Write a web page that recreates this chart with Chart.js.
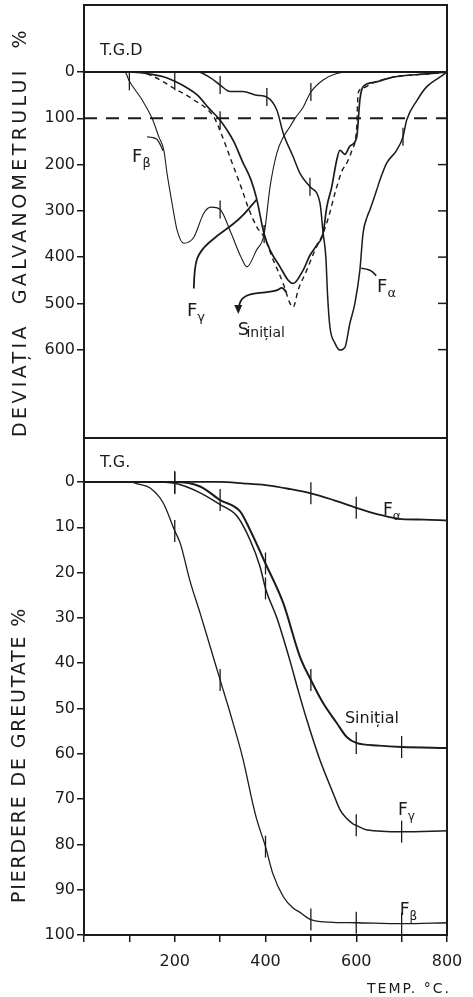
<!DOCTYPE html>
<html>
<head>
<meta charset="utf-8">
<script src="https://cdn.jsdelivr.net/npm/chart.js@4.4.1/dist/chart.umd.min.js"></script>
<style>
  html, body { margin: 0; padding: 0; background: #fff; }
  #wrap { position: relative; width: 473px; height: 997px; }
  canvas { position: absolute; left: 0; }
  #tgd { top: 0; width: 473px; height: 440px; }
  #tg { top: 438px; width: 473px; height: 559px; }
</style>
</head>
<body>
<div id="wrap">
  <canvas id="tgd" width="473" height="440"></canvas>
  <canvas id="tg" width="473" height="559"></canvas>
</div>
<script>
const INK = '#1b1b1b';
const FONT = "'DejaVu Sans'";

// temperature axis, °C
const tempTicks = [0, 100, 200, 300, 400, 500, 600, 700, 800];
const tempLabels = ['', '', '200', '', '400', '', '600', '', '800'];

// ---- T.G.D. : galvanometer deviation ----
const tgdTicks = [0, 100, 200, 300, 400, 500, 600];
const tgdEnds = [0, 800];
const tgdZero = [0, 0];
const tgdLimit = [100, 100];

const tgdBetaT = [0, 90, 100, 128, 150, 165, 176, 183, 194, 205, 220, 242, 264, 280, 300, 324, 346, 359, 380, 397, 410, 425, 439, 454, 465, 483, 500, 527, 557, 580, 800];
const tgdBetaV = [0, 0, 20, 60, 100, 140, 169, 219, 283, 341, 370, 357, 305, 292, 297, 348, 400, 421, 385, 350, 248, 175, 141, 118, 100, 76, 43, 17, 3, 0, 0];
const tgdBetaMarks = [100, 300, 500];

const tgdGammaT = [0, 110, 130, 150, 175, 200, 225, 250, 275, 300, 315, 330, 350, 368, 380, 397, 410, 432, 450, 461, 483, 498, 513, 527, 535, 546, 557, 564, 575, 586, 601, 608, 615, 640, 681, 755, 800];
const tgdGammaV = [0, 0, 2, 5, 10, 20, 33, 50, 78, 104, 125, 150, 195, 233, 272, 350, 385, 421, 450, 457, 428, 396, 374, 348, 292, 248, 190, 169, 178, 160, 141, 60, 32, 22, 11, 4, 0];
const tgdGammaMarks = [200, 300, 397];

const tgdInitT = [0, 120, 154, 198, 242, 286, 302, 324, 346, 364, 381, 397, 417, 439, 454, 461, 472, 491, 509, 527, 540, 553, 568, 580, 590, 601, 604, 612, 640, 681, 755, 800];
const tgdInitV = [0, 0, 10, 35, 60, 97, 132, 190, 248, 298, 335, 357, 406, 457, 500, 508, 471, 428, 385, 348, 310, 262, 215, 195, 170, 119, 46, 36, 22, 11, 4, 0];
const tgdInitMarks = [];

const tgdAlphaT = [0, 250, 278, 300, 322, 350, 381, 403, 425, 439, 461, 476, 498, 520, 527, 533, 537, 542, 553, 564, 575, 586, 597, 608, 615, 624, 630, 645, 652, 667, 689, 703, 711, 734, 755, 784, 800];
const tgdAlphaV = [0, 0, 12, 28, 42, 42, 50, 54, 82, 132, 183, 219, 248, 283, 348, 400, 486, 551, 586, 601, 595, 543, 500, 428, 348, 313, 298, 255, 234, 197, 169, 140, 104, 61, 32, 11, 0];
const tgdAlphaMarks = [300, 403, 498, 703];

// ---- T.G. : weight loss % ----
const tgTicks = [0, 10, 20, 30, 40, 50, 60, 70, 80, 90, 100];

const tgBetaT = [0, 100, 120, 145, 175, 200, 212, 234, 256, 277, 300, 322, 350, 372, 381, 400, 416, 439, 460, 476, 500, 549, 600, 700, 800];
const tgBetaV = [0, 0, 0.5, 1.3, 4.7, 10.8, 13.5, 22, 29, 36, 43.7, 51, 61, 71, 74.6, 80.5, 86.4, 91.5, 94, 95, 96.6, 97.2, 97.3, 97.5, 97.3];
const tgBetaMarks = [200, 300, 400, 500, 600, 700];

const tgGammaT = [0, 150, 200, 256, 300, 337, 366, 388, 400, 425, 454, 472, 491, 520, 549, 565, 593, 600, 624, 700, 800];
const tgGammaV = [0, 0, 0.3, 2.4, 5, 7.5, 12.8, 18.7, 23.5, 30, 39.5, 46, 52.5, 61.4, 68.7, 72.5, 75.5, 75.8, 76.8, 77.2, 77];
const tgGammaMarks = [200, 400, 600, 700];

const tgInitT = [0, 150, 200, 256, 300, 344, 366, 400, 439, 476, 500, 527, 557, 579, 600, 650, 700, 800];
const tgInitV = [0, 0, 0, 1, 4, 6.5, 10.6, 18, 26.7, 38.6, 43.7, 48.8, 53.2, 56.3, 57.6, 58.2, 58.5, 58.7];
const tgInitMarks = [200, 300, 400, 500, 600, 700];

const tgAlphaT = [0, 300, 350, 400, 450, 500, 550, 600, 650, 700, 750, 800];
const tgAlphaV = [0, 0, 0.3, 0.7, 1.5, 2.5, 4, 5.7, 7.2, 8.2, 8.3, 8.5];
const tgAlphaMarks = [500, 600];

// curve with little vertical tick marks at chosen temperatures
function curve(temps, vals, marks, markLen, extra) {
  return Object.assign({
    data: temps.map((t, i) => ({ x: t, y: vals[i] })),
    borderColor: INK,
    borderWidth: 1.6,
    fill: false,
    cubicInterpolationMode: 'monotone',
    pointStyle: 'line',
    pointRotation: 90,
    pointBorderColor: INK,
    pointBorderWidth: 1.3,
    pointRadius: c => marks.includes(temps[c.dataIndex]) ? markLen : 0,
    pointHoverRadius: 0
  }, extra || {});
}

function straight(xs, ys, extra) {
  return Object.assign({
    data: xs.map((x, i) => ({ x: x, y: ys[i] })),
    borderColor: INK, borderWidth: 2, fill: false, pointRadius: 0
  }, extra || {});
}

// helpers for annotations drawn in data space
function px(chart, t, v) {
  return [chart.scales.x.getPixelForValue(t), chart.scales.y.getPixelForValue(v)];
}
function tag(chart, t, v, main, sub, size) {
  const ctx = chart.ctx;
  const [x, y] = px(chart, t, v);
  ctx.fillStyle = INK;
  ctx.textAlign = 'left';
  ctx.textBaseline = 'alphabetic';
  ctx.font = size + 'px ' + FONT;
  ctx.fillText(main, x, y);
  if (sub) {
    const w = ctx.measureText(main).width;
    ctx.font = Math.round(size * 0.72) + 'px ' + FONT;
    ctx.fillText(sub, x + w, y + size * 0.28);
  }
}
function hook(chart, pts, width) {
  const ctx = chart.ctx;
  const p = pts.map(q => px(chart, q[0], q[1]));
  ctx.beginPath();
  ctx.moveTo(p[0][0], p[0][1]);
  for (let i = 1; i < p.length - 1; i++) {
    const mx = (p[i][0] + p[i + 1][0]) / 2, my = (p[i][1] + p[i + 1][1]) / 2;
    ctx.quadraticCurveTo(p[i][0], p[i][1], mx, my);
  }
  ctx.lineTo(p[p.length - 1][0], p[p.length - 1][1]);
  ctx.lineWidth = width;
  ctx.strokeStyle = INK;
  ctx.stroke();
  return p[p.length - 1];
}
function sideTitle(ctx, text, x, y, length) {
  ctx.save();
  ctx.translate(x, y);
  ctx.rotate(-Math.PI / 2);
  ctx.fillStyle = INK;
  ctx.font = '19px ' + FONT;
  ctx.textAlign = 'left';
  ctx.textBaseline = 'middle';
  ctx.letterSpacing = '0px';
  const w = ctx.measureText(text).width;
  ctx.letterSpacing = Math.max(0, (length - w) / text.length) + 'px';
  ctx.fillText(text, 0, 0);
  ctx.letterSpacing = '0px';
  ctx.restore();
}

const frame = {
  id: 'frame',
  afterDatasetsDraw(chart) {
    const { ctx, chartArea: a } = chart;
    ctx.save();
    ctx.strokeStyle = INK;
    ctx.lineWidth = 2;
    ctx.strokeRect(a.left, a.top, a.right - a.left, a.bottom - a.top);
    ctx.restore();
  }
};

const tgdDecor = {
  id: 'tgdDecor',
  afterDraw(chart) {
    const ctx = chart.ctx;
    const a = chart.chartArea;
    ctx.save();
    // inner ticks on the right edge
    ctx.strokeStyle = INK;
    ctx.lineWidth = 1.5;
    tgdTicks.slice(2).forEach(v => {
      const y = chart.scales.y.getPixelForValue(v);
      ctx.beginPath(); ctx.moveTo(a.right - 9, y); ctx.lineTo(a.right, y); ctx.stroke();
    });
    tag(chart, 35, -37, 'T.G.D', '', 16);
    tag(chart, 106, 195, 'F', 'β', 18);
    hook(chart, [[139, 140], [158, 141], [166, 152], [174, 170]], 1.2);
    tag(chart, 227, 527, 'F', 'γ', 18);
    hook(chart, [[242, 468], [243, 420], [256, 386], [292, 354], [342, 320], [380, 276]], 1.8);
    tag(chart, 339, 569, 'S', '', 18);
    tag(chart, 358, 573, 'inițial', '', 14);
    const tip = hook(chart, [[446, 476], [437, 463], [428, 472], [400, 476], [365, 480], [346, 490], [340, 512]], 1.8);
    ctx.fillStyle = INK;
    ctx.beginPath();
    ctx.moveTo(tip[0] - 4, tip[1] - 4); ctx.lineTo(tip[0] + 4, tip[1] - 4); ctx.lineTo(tip[0], tip[1] + 5);
    ctx.closePath(); ctx.fill();
    tag(chart, 646, 476, 'F', 'α', 18);
    hook(chart, [[611, 424], [630, 426], [644, 440]], 1.5);
    sideTitle(ctx, 'DEVIAȚIA  GALVANOMETRULUI  %', 21, 437, 410);
    ctx.restore();
  }
};

const tgDecor = {
  id: 'tgDecor',
  afterDraw(chart) {
    const ctx = chart.ctx;
    ctx.save();
    tag(chart, 35, -3.3, 'T.G.', '', 16);
    tag(chart, 659, 7.3, 'F', 'α', 17);
    tag(chart, 575, 53.2, 'Sinițial', '', 16);
    tag(chart, 692, 73.5, 'F', 'γ', 17);
    tag(chart, 696, 95.6, 'F', 'β', 17);
    sideTitle(ctx, 'PIERDERE DE GREUTATE %', 20, 465, 296);
    // x axis caption
    ctx.fillStyle = INK;
    ctx.font = '14px ' + FONT;
    ctx.textAlign = 'left';
    ctx.textBaseline = 'alphabetic';
    ctx.letterSpacing = '2px';
    ctx.fillText('TEMP. °C.', 367, 555);
    ctx.letterSpacing = '0px';
    ctx.restore();
  }
};

function yAxis(min, max, ticks) {
  return {
    type: 'linear', reverse: true, min: min, max: max,
    afterFit: s => { s.width = 84; s.paddingTop = 0; s.paddingBottom = 0; },
    afterBuildTicks: s => { s.ticks = ticks.map(v => ({ value: v })); },
    ticks: { color: INK, font: { family: FONT, size: 16 }, padding: 2, autoSkip: false,
             callback: v => String(v) },
    grid: { drawOnChartArea: false, tickLength: 7, color: INK, lineWidth: 1.5 },
    border: { display: false }
  };
}

const common = {
  responsive: false,
  animation: false,
  events: [],
  plugins: { legend: { display: false }, tooltip: { enabled: false } }
};

new Chart(document.getElementById('tgd'), {
  type: 'line',
  data: {
    datasets: [
      straight(tgdEnds, tgdZero),
      straight(tgdEnds, tgdLimit, { borderDash: [13, 9] }),
      curve(tgdBetaT, tgdBetaV, tgdBetaMarks, 9, { borderWidth: 1.1 }),
      curve(tgdGammaT, tgdGammaV, tgdGammaMarks, 9, { borderWidth: 1.7 }),
      curve(tgdInitT, tgdInitV, tgdInitMarks, 9, { borderWidth: 1.4, borderDash: [5, 4] }),
      curve(tgdAlphaT, tgdAlphaV, tgdAlphaMarks, 9, { borderWidth: 1.5 })
    ]
  },
  options: Object.assign({}, common, {
    layout: { padding: { left: 0, right: 26, top: 5, bottom: 2 }, autoPadding: false },
    scales: {
      x: { type: 'linear', min: 0, max: 800, display: false },
      y: yAxis(-145, 791, tgdTicks)
    }
  }),
  plugins: [frame, tgdDecor]
});

new Chart(document.getElementById('tg'), {
  type: 'line',
  data: {
    datasets: [
      curve(tgBetaT, tgBetaV, tgBetaMarks, 11, { borderWidth: 1.3 }),
      curve(tgGammaT, tgGammaV, tgGammaMarks, 11, { borderWidth: 1.5 }),
      curve(tgInitT, tgInitV, tgInitMarks, 11, { borderWidth: 2 }),
      curve(tgAlphaT, tgAlphaV, tgAlphaMarks, 11, { borderWidth: 1.8 })
    ]
  },
  options: Object.assign({}, common, {
    layout: { padding: { left: 0, right: 26, top: 0, bottom: 0 }, autoPadding: false },
    scales: {
      x: {
        type: 'linear', min: 0, max: 800,
        afterFit: s => { s.height = 62; s.paddingLeft = 0; s.paddingRight = 0; },
        afterBuildTicks: s => { s.ticks = tempTicks.map(v => ({ value: v })); },
        ticks: { color: INK, font: { family: FONT, size: 16 }, padding: 10, autoSkip: false, maxRotation: 0,
                 callback: v => tempLabels[tempTicks.indexOf(v)] },
        grid: { drawOnChartArea: false, tickLength: 7, color: INK, lineWidth: 1.5 },
        border: { display: false }
      },
      y: yAxis(-9.7, 100, tgTicks)
    }
  }),
  plugins: [frame, tgDecor]
});
</script>
</body>
</html>
